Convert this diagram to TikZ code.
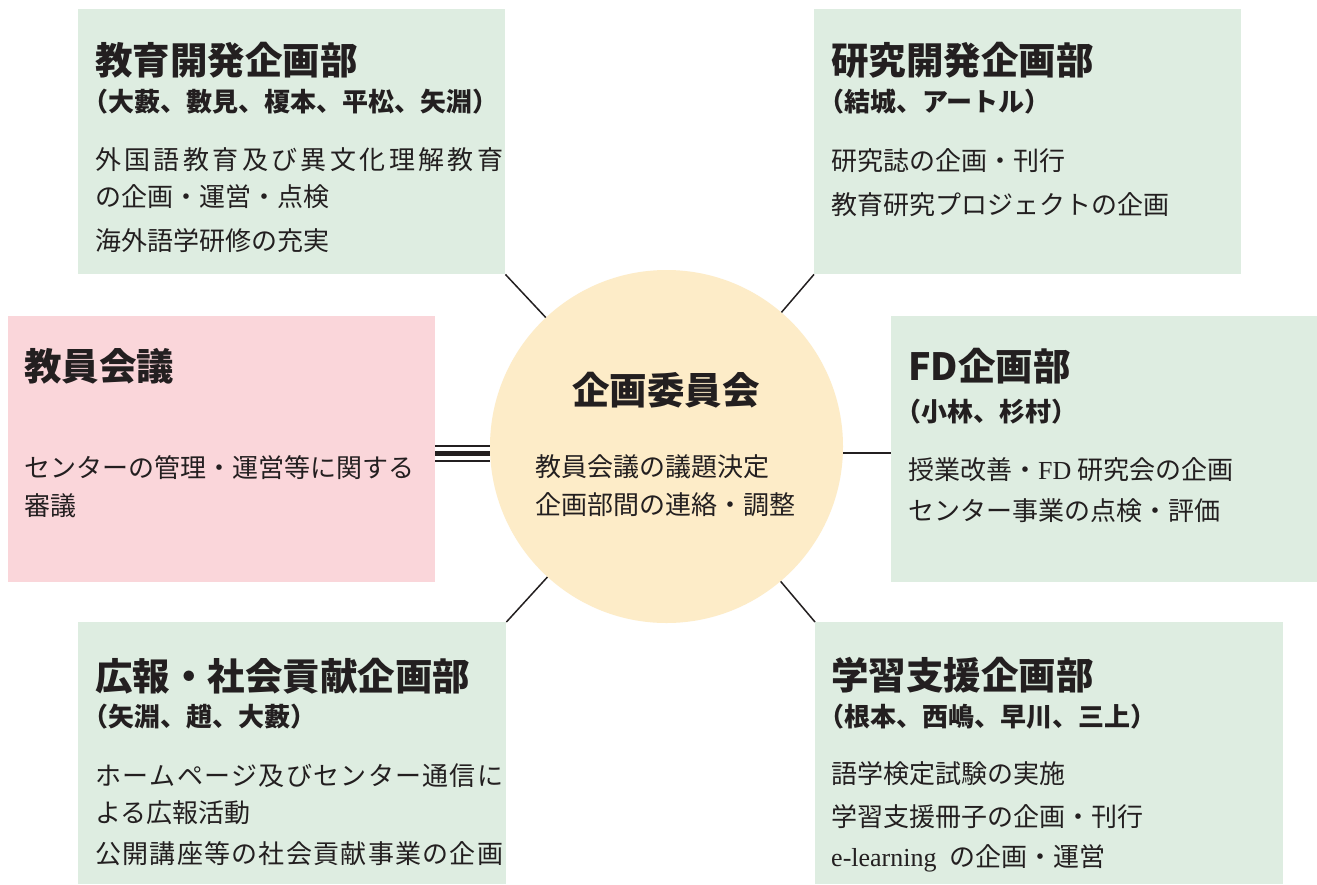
\documentclass[tikz,border=0pt]{standalone}
\usepackage{fontspec}
\setmainfont{Noto Sans CJK JP}
\newfontfamily\lat{Liberation Serif}
\definecolor{boxgreen}{RGB}{222,237,225}
\definecolor{boxpink}{RGB}{250,214,218}
\definecolor{circbeige}{RGB}{253,236,200}
\definecolor{ink}{RGB}{35,31,32}
\def\jline#1#2{\hbox to #1{\jfirst#2\relax}}
\def\jfirst#1{#1\jrest}
\def\jrest#1{\ifx\relax#1\else\hfil#1\expandafter\jrest\fi}
\newcommand{\op}{\kern-0.5em （}
\begin{document}
\begin{tikzpicture}[x=1pt,y=-1pt,
  gbox/.style={fill=boxgreen, draw=none, minimum width=427, minimum height=265, anchor=north west, inner sep=0},
  pbox/.style={gbox, fill=boxpink, minimum height=266},
  ttl/.style={anchor=base west, inner sep=0, font=\fontsize{37.5}{37.5}\selectfont\bfseries, text=ink},
  mem/.style={anchor=base west, inner sep=0, font=\fontsize{26}{26}\selectfont\bfseries, text=ink},
  bdy/.style={anchor=base west, inner sep=0, font=\fontsize{26}{26}\selectfont, text=ink},
  conn/.style={draw=ink, line width=1.5}]
\fill[white] (0,0) rectangle (1317,884);
\path[use as bounding box] (0,0) rectangle (1317,884);

% boxes
\node[gbox] (kyoiku) at (78,9) {};
\node[gbox] (kenkyu) at (814,9) {};
\node[pbox] (kyoin) at (8,316) {};
\node[gbox, minimum width=426, minimum height=266] (fd) at (891,316) {};
\node[gbox, minimum width=428, minimum height=262] (koho) at (78,622) {};
\node[gbox, minimum width=468, minimum height=262] (gakushu) at (815,622) {};
\node[circle, fill=circbeige, minimum size=353, inner sep=0] (iinkai) at (666.5,446.5) {};

% connectors
\draw[conn] (kyoiku.south east) -- (iinkai);
\draw[conn] (kenkyu.south west) -- (iinkai);
\draw[conn] (koho.north east) -- (iinkai);
\draw[conn] (gakushu.north west) -- (iinkai);
\coordinate (ly) at (0,453);
\coordinate (ly1) at (0,446);
\coordinate (ly3) at (0,461);
\draw[conn] (iinkai.east |- ly) -- (fd.west |- ly);
\draw[draw=ink, line width=2] (kyoin.east |- ly1) -- (iinkai.west |- ly1);
\draw[draw=ink, line width=5] (kyoin.east |- ly) -- (iinkai.west |- ly);
\draw[draw=ink, line width=2] (kyoin.east |- ly3) -- (iinkai.west |- ly3);

% 教育開発企画部
\node[ttl] (t1) at (95,74) {教育開発企画部};
\node[mem] (m1) at (95,111) {\op 大藪、數見、榎本、平松、矢淵）};
\node[bdy] (b1a) at (95,169) {\jline{408pt}{外国語教育及び異文化理解教育}};
\node[bdy] (b1b) at (95,206) {の企画・運営・点検};
\node[bdy] (b1c) at (95,250) {海外語学研修の充実};

% 研究開発企画部
\node[ttl] (t2) at (831,74) {研究開発企画部};
\node[mem] (m2) at (831,111) {\op 結城、アートル）};
\node[bdy] (b2a) at (831,170) {研究誌の企画・刊行};
\node[bdy] (b2b) at (831,214) {教育研究プロジェクトの企画};

% 教員会議
\node[ttl] (t3) at (24,380) {教員会議};
\node[bdy] (b3a) at (24,477) {センターの管理・運営等に関する};
\node[bdy] (b3b) at (24,515) {審議};

% FD企画部
\node[ttl] (t4) at (908,380) {FD企画部};
\node[mem] (m4) at (908,421) {\op 小林、杉村）};
\node[bdy] (b4a) at (908,479) {授業改善・{\lat FD} 研究会の企画};
\node[bdy] (b4b) at (908,520) {センター事業の点検・評価};

% 広報・社会貢献企画部
\node[ttl] (t5) at (95,690) {広報・社会貢献企画部};
\node[mem] (m5) at (95,726) {\op 矢淵、趙、大藪）};
\node[bdy] (b5a) at (95,785) {\jline{408pt}{ホームページ及びセンター通信に}};
\node[bdy] (b5b) at (95,822) {よる広報活動};
\node[bdy] (b5c) at (95,863) {\jline{408pt}{公開講座等の社会貢献事業の企画}};

% 学習支援企画部
\node[ttl] (t6) at (831,689) {学習支援企画部};
\node[mem] (m6) at (831,726) {\op 根本、西嶋、早川、三上）};
\node[bdy] (b6a) at (831,783) {語学検定試験の実施};
\node[bdy] (b6b) at (831,826) {学習支援冊子の企画・刊行};
\node[bdy] (b6c) at (831,866) {{\lat e-learning}\hspace{0.5em}の企画・運営};

% 企画委員会
\node[ttl, anchor=base] (t7) at (666,404) {企画委員会};
\node[bdy] (b7a) at (535,476) {教員会議の議題決定};
\node[bdy] (b7b) at (535,514) {企画部間の連絡・調整};
\end{tikzpicture}
\end{document}
